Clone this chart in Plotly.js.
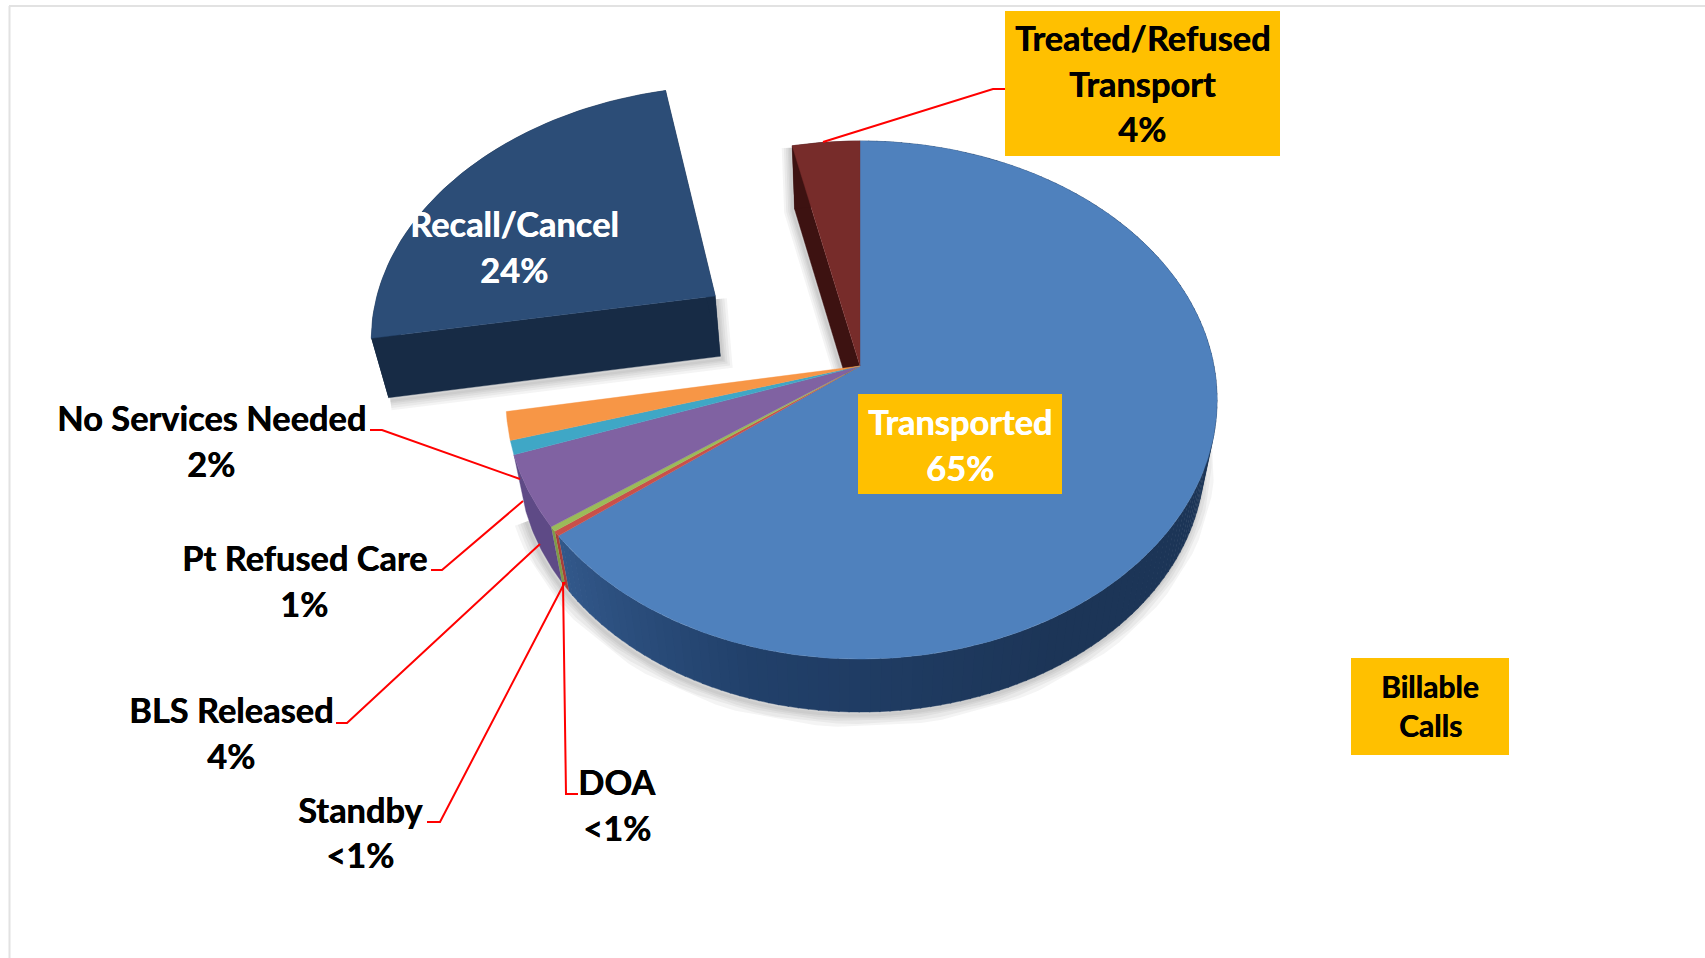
<!DOCTYPE html>
<html>
<head>
<meta charset="utf-8">
<script src="https://cdn.plot.ly/plotly-3.0.1.min.js"></script>
<style>html,body{margin:0;padding:0;background:#fff}#chart{width:1705px;height:958px}</style>
</head>
<body>
<div id="chart"></div>
<script>
// ---- chart data (clockwise from 12 o'clock) ----
const categories = ['Transported','DOA','Standby','BLS Released','Pt Refused Care','No Services Needed','Recall/Cancel','Treated/Refused Transport'];
const values     = [64.5, 0.3, 0.3, 4.5, 0.86, 1.75, 24.3, 3.5];
const percentLabels = ['65%','<1%','<1%','4%','1%','2%','24%','4%'];
const topColors  = ['#4F81BD','#C9504A','#9BBB59','#8062A2','#3FA7C6','#F79646','#2C4D77','#772C2A'];
const sideColors = ['#1C3557','#A83F3A','#7F9A48','#5E4A86','#5E4A86','#5E4A86','#172B45','#3D1211'];
const pulls      = [0, 0, 0, 0, 0, 0, 0.514, 0];

// ---- label text, split by line ----
const labelLines = {
  'Transported':['Transported','65%'],
  'DOA':['DOA','<1%'],
  'Standby':['Standby','<1%'],
  'BLS Released':['BLS Released','4%'],
  'Pt Refused Care':['Pt Refused Care','1%'],
  'No Services Needed':['No Services Needed','2%'],
  'Recall/Cancel':['Recall/Cancel','24%'],
  'Treated/Refused Transport':['Treated/Refused','Transport','4%']
};
const labelX = {'Transported':960,'DOA':617,'Standby':360,'BLS Released':231,'Pt Refused Care':304,'No Services Needed':211,'Recall/Cancel':514,'Treated/Refused Transport':1142};
const labelY = {'Transported':[421,467],'DOA':[781,827],'Standby':[809,854],'BLS Released':[709,755],'Pt Refused Care':[557,603],'No Services Needed':[417,463],'Recall/Cancel':[223,269],'Treated/Refused Transport':[37,83,128]};
const labelColor = {'Transported':'#fff','Recall/Cancel':'#fff'};
const noteLines = ['Billable','Calls'];
const noteY = [686,725];

// ---- leader lines ----
const leaders = [
  {x:[1005,993,823],y:[89,89,142]},
  {x:[370,382,520],y:[430,430,479]},
  {x:[431,442,523],y:[570,570,501]},
  {x:[336,347,540],y:[723,723,544]},
  {x:[427,440,565],y:[822,822,582]},
  {x:[578,566,563],y:[794,794,582]}
];
// ---- orange boxes ----
const boxes = [
  {x0:1005,x1:1280,y0:11,y1:156},
  {x0:858,x1:1062,y0:394,y1:494},
  {x0:1351,x1:1509,y0:658,y1:755}
];

// ---- perspective projection of the pie plane ----
const apexX=860, apexY=366, scaleRight=354, scaleLeft=351, scaleY=254.6, persp=0.1313;
const D2R=Math.PI/180;
function project(X,Y){const w=1-persp*Y;return [apexX+(X<0?scaleLeft:scaleRight)*X/w, apexY+scaleY*Y/w];}
function rim(deg,off){return project(Math.sin(deg*D2R)+off[0], -Math.cos(deg*D2R)+off[1]);}
function drop(p){return [p[0]+(apexX-p[0])*0.035, p[1]+53+(659-p[1])*0.02];}
function poly(pts,fill,name){
  return {type:'scatter',mode:'lines',x:pts.map(p=>p[0]),y:pts.map(p=>p[1]),fill:'toself',fillcolor:fill,
    line:{color:fill,width:0.4},hoverinfo:name?'text':'skip',text:name||'',showlegend:false};
}
function stroke(pts,color,width){
  return {type:'scatter',mode:'lines',x:pts.map(p=>p[0]),y:pts.map(p=>p[1]),line:{color:color,width:width,shape:'linear'},hoverinfo:'skip',showlegend:false};
}
function hexMix(a,b,t){
  const pa=[1,3,5].map(i=>parseInt(a.substr(i,2),16)), pb=[1,3,5].map(i=>parseInt(b.substr(i,2),16));
  return 'rgb('+pa.map((v,i)=>Math.round(v+(pb[i]-v)*t)).join(',')+')';
}

// ---- slice geometry computed from the values ----
const total=values.reduce((a,b)=>a+b,0);
let acc=0;
const slices=categories.map((c,i)=>{
  const a0=acc/total*360; acc+=values[i]; const a1=acc/total*360;
  const mid=(a0+a1)/2*D2R;
  const off=[pulls[i]*Math.sin(mid),-pulls[i]*Math.cos(mid)];
  return {name:c,a0,a1,off,i};
});
function arcPts(s,n){
  const step=Math.max(0.5,(s.a1-s.a0)/(n||80)), pts=[];
  for(let a=s.a0;a<s.a1;a+=step) pts.push(rim(a,s.off));
  pts.push(rim(s.a1,s.off));
  return pts;
}

const traces=[];

// soft shadows behind the solid
const shadowAlpha='rgba(40,40,40,0.05)';
const rimLow=[]; for(let a=60;a<=250;a+=3) rimLow.push(drop(rim(a,[0,0])));
const recall=slices[6], treated=slices[7];
const recApex=project(recall.off[0],recall.off[1]);
const recOuter=rim(recall.a0,recall.off), recOuter1=rim(recall.a1,recall.off);
const recShadow=[drop(recOuter),drop(recApex),recApex];
const treOuter=rim(treated.a0,[0,0]);
const treShadow=[treOuter,drop(treOuter),drop([apexX,apexY])];
[24,18,12,7,3].forEach(w=>{
  traces.push(stroke(rimLow.map(p=>[p[0]-2,p[1]+3]),shadowAlpha,w));
  traces.push(stroke(recShadow.map(p=>[p[0]+2,p[1]+3]),shadowAlpha,w*0.8));
  traces.push(stroke(treShadow.map(p=>[p[0]-2,p[1]+2]),shadowAlpha,w*0.7));
});

// exploded wedge: walls
{
  const pts=arcPts(recall,40);
  traces.push(poly(pts.concat(pts.map(drop).reverse()),sideColors[6]));
  traces.push(poly([recOuter,recApex,drop(recApex),drop(recOuter)],sideColors[6]));
  traces.push(poly([recApex,recOuter1,drop(recOuter1),drop(recApex)],sideColors[6]));
}
// radial wall of the last slice, seen through the gap
traces.push(poly([treOuter,drop(treOuter),drop([apexX,apexY]),[apexX,apexY]],sideColors[7]));

// rim walls, in strips for the main slice so that they shade along the rim
slices.forEach(s=>{
  if(s.i===6 || s.i===4 || s.i===5) return;
  if(s.i===0){
    const step=1.5;
    for(let a=s.a0;a<s.a1;a+=step){
      const b=Math.min(a+step+0.2,s.a1);
      const col=a<150?sideColors[0]:a<195?hexMix(sideColors[0],'#21406A',(a-150)/45):hexMix('#21406A','#33598C',(a-195)/38);
      const top=[rim(a,s.off),rim(b,s.off)];
      traces.push(poly(top.concat(top.map(drop).reverse()),col));
    }
  } else {
    const pts=arcPts(s,24);
    traces.push(poly(pts.concat(pts.map(drop).reverse()),sideColors[s.i]));
  }
});

// top faces
slices.forEach(s=>{
  const apex=project(s.off[0],s.off[1]);
  const pts=arcPts(s,Math.max(6,Math.round((s.a1-s.a0)*1.5)));
  traces.push(poly([apex].concat(pts,[apex]),topColors[s.i],s.name));
});

// leader lines
leaders.forEach(l=>traces.push({type:'scatter',mode:'lines',x:l.x,y:l.y,line:{color:'#FF0000',width:2},hoverinfo:'skip',showlegend:false}));

// text
const annotations=[];
const fontFam='Lato, Carlito, Calibri, sans-serif';
categories.forEach(c=>{
  const col=labelColor[c]||'#000';
  labelLines[c].forEach((t,k)=>{
    annotations.push({xref:'x',yref:'y',x:labelX[c],y:labelY[c][k],text:t.replace('<','&lt;'),showarrow:false,xanchor:'center',yanchor:'middle',
      font:{family:fontFam,size:34.4,weight:700,color:col,shadow:'0.5px 0 0 '+col}});
  });
});
noteLines.forEach((t,k)=>annotations.push({xref:'x',yref:'y',x:1430,y:noteY[k],text:t,showarrow:false,xanchor:'center',yanchor:'middle',
  font:{family:fontFam,size:30,weight:700,color:'#000',shadow:'0.5px 0 0 #000'}}));

const shapes=[
  {type:'line',xref:'x',yref:'y',x0:9,x1:1705,y0:6,y1:6,line:{color:'#E2E2E2',width:2},layer:'below'},
  {type:'line',xref:'x',yref:'y',x0:9.5,x1:9.5,y0:6,y1:958,line:{color:'#E2E2E2',width:2},layer:'below'}
].concat(boxes.map(b=>({type:'rect',xref:'x',yref:'y',x0:b.x0,x1:b.x1,y0:b.y0,y1:b.y1,fillcolor:'#FFC000',line:{width:0},layer:'above'})));

const layout={
  width:1705,height:958,margin:{l:0,r:0,t:0,b:0},paper_bgcolor:'#fff',plot_bgcolor:'#fff',showlegend:false,
  xaxis:{range:[0,1705],visible:false,fixedrange:true},
  yaxis:{range:[958,0],visible:false,fixedrange:true},
  shapes:shapes,annotations:annotations,hovermode:'closest'
};
Plotly.newPlot('chart',traces,layout,{displayModeBar:false,responsive:false});
</script>
</body>
</html>
